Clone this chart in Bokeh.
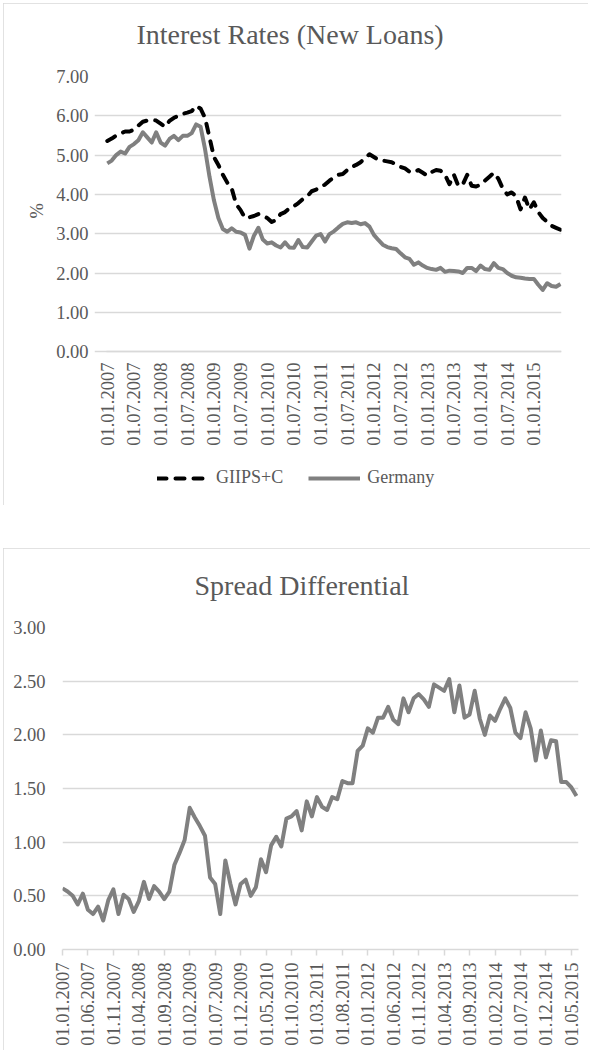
import math
from bokeh.plotting import figure
from bokeh.models import Range1d, FixedTicker, NumeralTickFormatter, Legend, LegendItem, Title
from bokeh.layouts import column
from bokeh.embed import file_html
from bokeh.resources import INLINE

# ---------------- data ----------------
top_tick_labels = ["01.01.2007", "01.07.2007", "01.01.2008", "01.07.2008", "01.01.2009",
                   "01.07.2009", "01.01.2010", "01.07.2010", "01.01.2011", "01.07.2011",
                   "01.01.2012", "01.07.2012", "01.01.2013", "01.07.2013", "01.01.2014",
                   "01.07.2014", "01.01.2015"]

bottom_tick_labels = ["01.01.2007", "01.06.2007", "01.11.2007", "01.04.2008", "01.09.2008",
                      "01.02.2009", "01.07.2009", "01.12.2009", "01.05.2010", "01.10.2010",
                      "01.03.2011", "01.08.2011", "01.01.2012", "01.06.2012", "01.11.2012",
                      "01.04.2013", "01.09.2013", "01.02.2014", "01.07.2014", "01.12.2014",
                      "01.05.2015"]

giips = [5.36, 5.42, 5.50, 5.55, 5.60, 5.60, 5.65, 5.75, 5.85, 5.88,
         5.90, 5.88, 5.80, 5.72, 5.87, 5.95, 6.00, 6.05, 6.08, 6.12,
         6.25, 6.18, 5.95, 5.45, 4.95, 4.75, 4.50, 4.30, 4.15, 3.75,
         3.60, 3.40, 3.42, 3.45, 3.50, 3.45, 3.40, 3.30, 3.35, 3.50,
         3.55, 3.65, 3.70, 3.78, 3.88, 3.95, 4.08, 4.12, 4.20, 4.25,
         4.35, 4.43, 4.50, 4.52, 4.62, 4.70, 4.75, 4.82, 4.92, 5.02,
         4.95, 4.88, 4.86, 4.84, 4.82, 4.76, 4.70, 4.66, 4.58, 4.56,
         4.62, 4.55, 4.48, 4.57, 4.62, 4.60, 4.50, 4.26, 4.50, 4.22,
         4.25, 4.50, 4.22, 4.20, 4.25, 4.35, 4.45, 4.55, 4.40, 4.15,
         4.00, 4.05, 3.95, 3.62, 3.92, 3.62, 3.80, 3.55, 3.40, 3.30,
         3.20, 3.15, 3.10]

germany = [4.79, 4.86, 5.00, 5.09, 5.04, 5.21, 5.28, 5.38, 5.58, 5.45,
           5.32, 5.58, 5.32, 5.24, 5.41, 5.49, 5.38, 5.49, 5.49, 5.56,
           5.78, 5.72, 5.15, 4.45, 3.85, 3.40, 3.12, 3.05, 3.14, 3.05,
           3.03, 2.97, 2.62, 2.95, 3.15, 2.85, 2.75, 2.78, 2.70, 2.65,
           2.78, 2.65, 2.64, 2.84, 2.66, 2.65, 2.80, 2.95, 2.99, 2.80,
           2.99, 3.06, 3.16, 3.25, 3.29, 3.27, 3.29, 3.24, 3.27, 3.18,
           2.97, 2.84, 2.72, 2.66, 2.63, 2.61, 2.50, 2.40, 2.36, 2.21,
           2.27, 2.19, 2.13, 2.10, 2.08, 2.13, 2.03, 2.06, 2.05, 2.04,
           2.00, 2.13, 2.13, 2.05, 2.19, 2.10, 2.08, 2.25, 2.13, 2.10,
           2.00, 1.93, 1.89, 1.88, 1.86, 1.85, 1.85, 1.70, 1.57, 1.74,
           1.67, 1.65, 1.72]

spread = [0.57, 0.54, 0.50, 0.42, 0.52, 0.37, 0.33, 0.40, 0.27, 0.46,
          0.56, 0.33, 0.51, 0.47, 0.35, 0.45, 0.63, 0.47, 0.59, 0.54,
          0.47, 0.54, 0.79, 0.90, 1.02, 1.32, 1.23, 1.15, 1.06, 0.67,
          0.61, 0.33, 0.83, 0.61, 0.42, 0.61, 0.65, 0.50, 0.58, 0.84,
          0.72, 0.97, 1.05, 0.96, 1.22, 1.24, 1.29, 1.11, 1.38, 1.24,
          1.42, 1.33, 1.30, 1.42, 1.40, 1.57, 1.55, 1.55, 1.85, 1.90,
          2.06, 2.02, 2.16, 2.16, 2.26, 2.14, 2.10, 2.34, 2.21, 2.34,
          2.38, 2.33, 2.26, 2.47, 2.44, 2.41, 2.52, 2.21, 2.46, 2.16,
          2.19, 2.41, 2.15, 2.00, 2.18, 2.13, 2.24, 2.34, 2.25, 2.02,
          1.97, 2.21, 2.06, 1.76, 2.04, 1.79, 1.95, 1.94, 1.56, 1.56,
          1.51, 1.43]

top_x = list(range(len(germany)))
bot_x = list(range(len(spread)))

FONT = "Liberation Serif"
TXT = "#595959"
GRID = "#d9d9d9"
LINE_GRAY = "#808080"
BORDER = {"outline": "2px solid #d9d9d9", "outline-offset": "-2px"}


def style_common(p):
    try:
        p.frame_align = False
    except Exception:
        pass
    p.outline_line_color = None
    p.xgrid.grid_line_color = None
    p.ygrid.grid_line_color = GRID
    p.ygrid.grid_line_width = 1.5
    p.background_fill_color = "white"
    p.border_fill_color = "white"
    for ax in (p.xaxis[0], p.yaxis[0]):
        ax.major_label_text_font = FONT
        ax.major_label_text_font_size = "18.5px"
        ax.major_label_text_color = TXT
        ax.minor_tick_line_color = None
        ax.major_tick_in = 0
    p.yaxis[0].axis_line_color = None
    p.yaxis[0].major_tick_line_color = None
    p.yaxis[0].major_tick_out = 0
    p.yaxis[0].major_label_standoff = 17
    p.xaxis[0].axis_line_color = GRID
    p.xaxis[0].axis_line_width = 1.5
    p.xaxis[0].major_label_orientation = math.pi / 2
    p.title.text_font = FONT
    p.title.text_font_size = "28px"
    p.title.text_font_style = "normal"
    p.title.text_color = TXT
    p.title.align = "left"
    p.title.standoff = 6


# ---------------- top chart ----------------
p1 = figure(width=585, height=502, output_backend="svg", toolbar_location=None,
            x_range=Range1d(-2.88, 102.22), y_range=Range1d(-3.763, 7),
            min_border_left=91, min_border_right=27, min_border_top=73,
            min_border_bottom=6, title="Interest Rates (New Loans)\n", styles=BORDER)
style_common(p1)
p1.title.offset = 42
p1.title.text_line_height = 0.77
p1.ygrid.bounds = (-0.18, 102.22)

r_g = p1.line(top_x, giips, line_color="black", line_width=4, line_dash="9 9",
              line_cap="round", line_join="round")
r_d = p1.line(top_x, germany, line_color=LINE_GRAY, line_width=4, line_join="round")

top_ticks = [6 * k for k in range(len(top_tick_labels))]
p1.xaxis[0].ticker = FixedTicker(ticks=top_ticks)
p1.xaxis[0].major_label_overrides = {t: l for t, l in zip(top_ticks, top_tick_labels)}
p1.xaxis[0].major_tick_line_color = None
p1.xaxis[0].major_tick_out = 0
p1.xaxis[0].major_label_standoff = 11
p1.xaxis[0].fixed_location = 0
p1.xaxis[0].bounds = (-0.18, 102.22)
p1.yaxis[0].ticker = FixedTicker(ticks=[0, 1, 2, 3, 4, 5, 6, 7])
p1.yaxis[0].formatter = NumeralTickFormatter(format="0.00")
p1.yaxis[0].major_label_standoff = 6

pct = Title(text="%", align="left", offset=281, standoff=14, text_font=FONT,
            text_font_size="18.5px", text_font_style="normal", text_color=TXT)
p1.add_layout(pct, "left")

legend = Legend(items=[LegendItem(label="GIIPS+C", renderers=[r_g]),
                       LegendItem(label="Germany", renderers=[r_d])],
                orientation="horizontal", location=(63, 11),
                glyph_width=52, glyph_height=20, label_standoff=7, spacing=25,
                padding=0, margin=0, border_line_color=None, background_fill_alpha=0,
                label_text_font=FONT, label_text_font_size="18px", label_text_color=TXT)
p1.add_layout(legend, "center")

# ---------------- bottom chart ----------------
p2 = figure(width=587, height=502, output_backend="svg", toolbar_location=None,
            x_range=Range1d(0, 101.4), y_range=Range1d(0, 3),
            min_border_left=59, min_border_right=12, min_border_top=79,
            min_border_bottom=101, title="Spread Differential\n", styles=BORDER)
style_common(p2)
p2.title.offset = 132
p2.title.text_line_height = 0.75

p2.line(bot_x, spread, line_color=LINE_GRAY, line_width=4, line_join="round")

bot_ticks = [5 * k for k in range(len(bottom_tick_labels))]
p2.xaxis[0].ticker = FixedTicker(ticks=bot_ticks)
p2.xaxis[0].major_label_overrides = {t: l for t, l in zip(bot_ticks, bottom_tick_labels)}
p2.xaxis[0].major_tick_line_color = GRID
p2.xaxis[0].major_tick_line_width = 1.5
p2.xaxis[0].major_tick_out = 6
p2.xaxis[0].major_label_standoff = 7
p2.yaxis[0].ticker = FixedTicker(ticks=[0, 0.5, 1, 1.5, 2, 2.5, 3])
p2.yaxis[0].formatter = NumeralTickFormatter(format="0.00")

layout = column(p1, p2, spacing=43, margin=(3, 0, 0, 3))

open("out.html", "w").write(file_html(layout, INLINE))
